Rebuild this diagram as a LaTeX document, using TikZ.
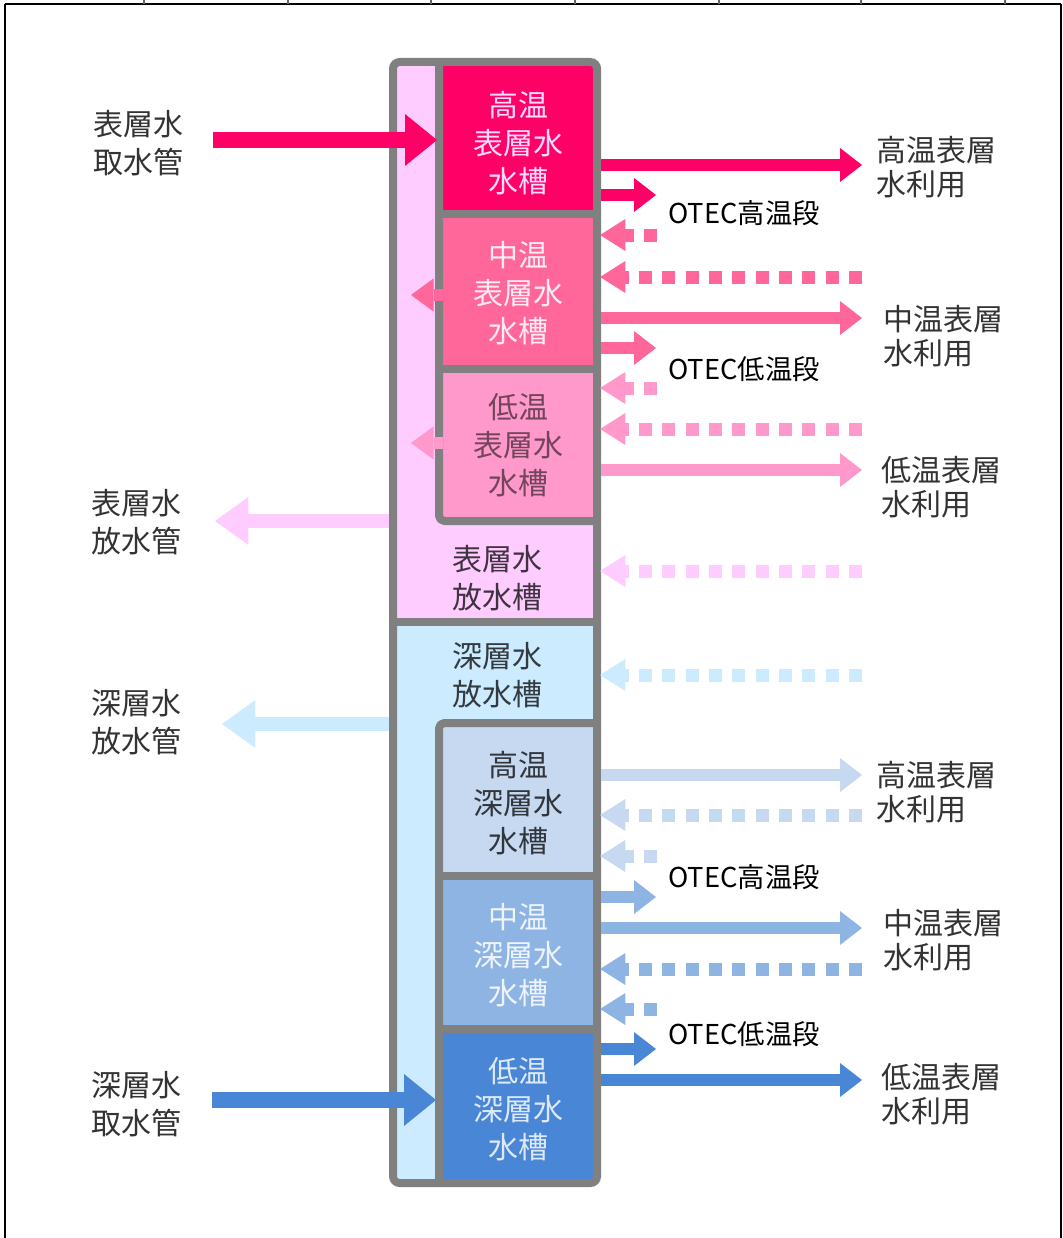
\documentclass[tikz,border=0pt]{standalone}
\usepackage{fontspec}
\setmainfont{Noto Sans CJK JP}
\usetikzlibrary{arrows.meta}
\definecolor{pkA}{HTML}{FF0066}
\definecolor{pkB}{HTML}{FF6699}
\definecolor{pkC}{HTML}{FF99CC}
\definecolor{pkD}{HTML}{FFCCFF}
\definecolor{blD}{HTML}{CCEBFF}
\definecolor{blA}{HTML}{C6D9F1}
\definecolor{blB}{HTML}{8EB4E3}
\definecolor{blC}{HTML}{4A86D6}
\definecolor{wallgray}{HTML}{808080}
\definecolor{txt}{HTML}{333333}
\tikzset{
  lbl/.style={text=txt, font=\fontsize{22.5}{28.5}\selectfont, inner sep=0pt, align=left, anchor=west},
  rlbl/.style={text=txt, font=\fontsize{22.5}{25.5}\selectfont, inner sep=0pt, align=left, anchor=west},
  tanktxt/.style={font=\fontsize{22.5}{28.5}\selectfont, inner sep=0pt, align=center},
  otec/.style={text=black, font=\fontsize{20.5}{24}\selectfont, inner sep=0pt, anchor=west},
  wall/.style={draw=wallgray, line width=6pt},
  bigarrow/.style={line width=12pt, -{Triangle[length=24pt,width=39pt,line width=0pt]}},
  outarrow/.style={line width=9pt, -{Triangle[length=16.5pt,width=25.5pt,line width=0pt]}},
  inarrow/.style={line width=9.75pt, dash pattern=on 9.75pt off 7.75pt, -{Triangle[length=19pt,width=24pt,line width=0pt]}},
  relarrow/.style={line width=11pt, -{Triangle[length=25pt,width=36pt,line width=0pt]}},
  smallarrow/.style={line width=9pt, -{Triangle[length=17pt,width=25pt,line width=0pt]}},
}
\begin{document}
\begin{tikzpicture}[x=0.75pt,y=-0.75pt]
\useasboundingbox (0,0) rectangle (1063,1238);
% page frame
\draw[black, line width=2pt] (5,4) -- (1061,4);
\draw[black, line width=1.2pt] (5,4) -- (5,1238);
\draw[black, line width=1.2pt] (1061,4) -- (1061,1238);
\foreach \tx in {144,288,431,575,719,861,1005}
  \draw[black!60, line width=0.8pt] (\tx,0) -- (\tx,4);

% region fills
\fill[pkD] (393,62) rectangle (597,622);
\fill[blD] (393,622) rectangle (597,1183);
\fill[pkA] (439,62) rectangle (597,214);
\fill[pkB] (439,214) rectangle (597,369);
\fill[pkC] (439,369) rectangle (597,521);
\fill[blA] (439,723) rectangle (597,876);
\fill[blB] (439,876) rectangle (597,1029);
\fill[blC] (439,1029) rectangle (597,1183);

% walls
\draw[wall, rounded corners=5pt] (393,62) rectangle (597,1183);
\draw[wall, rounded corners=4pt, line join=round] (439,62) -- (439,521) -- (597,521);
\draw[wall] (393,622) -- (597,622);
\draw[wall, rounded corners=4pt, line join=round] (597,723) -- (439,723) -- (439,1183);
\draw[wall] (439,214) -- (597,214);
\draw[wall] (439,369) -- (597,369);
\draw[wall] (439,876) -- (597,876);
\draw[wall] (439,1029) -- (597,1029);

% tank texts
\node[tanktxt, text=pkD!70!white] (t1) at (518,143) {高温\\表層水\\水槽};
\node[tanktxt, text=white!88!pkB] (t2) at (518,293) {中温\\表層水\\水槽};
\node[tanktxt, text=black!55!pkC] (t3) at (518,445) {低温\\表層水\\水槽};
\node[tanktxt, text=black!75!pkD] (s1) at (497,578) {表層水\\放水槽};
\node[tanktxt, text=black!75!blD] (s2) at (497,675) {深層水\\放水槽};
\node[tanktxt, text=black!75!blA] (d1) at (518,803) {高温\\深層水\\水槽};
\node[tanktxt, text=white!85!blB] (d2) at (518,955) {中温\\深層水\\水槽};
\node[tanktxt, text=white!82!blC] (d3) at (518,1109) {低温\\深層水\\水槽};

% left labels
\node[lbl] (l1) at (93,143) {表層水\\取水管};
\node[lbl] (l2) at (91,522) {表層水\\放水管};
\node[lbl] (l3) at (91,722) {深層水\\放水管};
\node[lbl] (l4) at (91,1104) {深層水\\取水管};

% right labels
\node[rlbl] (r1) at (876,167) {高温表層\\水利用};
\node[rlbl] (r2) at (883,336) {中温表層\\水利用};
\node[rlbl] (r3) at (881,487) {低温表層\\水利用};
\node[rlbl] (r4) at (876,792) {高温表層\\水利用};
\node[rlbl] (r5) at (883,940) {中温表層\\水利用};
\node[rlbl] (r6) at (881,1094) {低温表層\\水利用};

% OTEC labels
\node[otec] (o1) at (668,213) {OTEC高温段};
\node[otec] (o2) at (668,369) {OTEC低温段};
\node[otec] (o3) at (668,877) {OTEC高温段};
\node[otec] (o4) at (668,1034) {OTEC低温段};

% left arrows
\coordinate (li1) at (213,140);   \coordinate (li1e) at (437,140);
\coordinate (lr1) at (389,521);   \coordinate (lr1e) at (215,521);
\coordinate (lr2) at (389,724);   \coordinate (lr2e) at (222,724);
\coordinate (li2) at (212,1100);  \coordinate (li2e) at (436,1100);
\draw[bigarrow, pkA] (li1) -- (li1e);
\draw[relarrow, pkD] (lr1) -- (lr1e);
\draw[relarrow, blD] (lr2) -- (lr2e);
\draw[bigarrow, blC] (li2) -- (li2e);

% small arrows into the side channel
\coordinate (sa1) at (443,295); \coordinate (sa1e) at (411,295);
\coordinate (sa2) at (443,443); \coordinate (sa2e) at (411,443);
\draw[smallarrow, pkB] (sa1) -- (sa1e);
\draw[smallarrow, pkC] (sa2) -- (sa2e);

% right arrows: surface
\def\xw{601}\def\xs{656}\def\xl{862}
\coordinate (a1) at (\xw,165);  \coordinate (a1e) at (\xl,165);
\coordinate (a2) at (\xw,195);  \coordinate (a2e) at (\xs,195);
\coordinate (a3) at (657,235);  \coordinate (a3e) at (600,235);
\coordinate (a4) at (\xl,277);  \coordinate (a4e) at (600,277);
\coordinate (a5) at (\xw,318);  \coordinate (a5e) at (\xl,318);
\coordinate (a6) at (\xw,348);  \coordinate (a6e) at (\xs,348);
\coordinate (a7) at (657,388);  \coordinate (a7e) at (600,388);
\coordinate (a8) at (\xl,429);  \coordinate (a8e) at (600,429);
\coordinate (a9) at (\xw,470);  \coordinate (a9e) at (\xl,470);
\coordinate (a10) at (\xl,571); \coordinate (a10e) at (600,571);
\draw[outarrow, pkA] (a1) -- (a1e);
\draw[outarrow, pkA] (a2) -- (a2e);
\draw[inarrow, pkB] (a3) -- (a3e);
\draw[inarrow, pkB] (a4) -- (a4e);
\draw[outarrow, pkB] (a5) -- (a5e);
\draw[outarrow, pkB] (a6) -- (a6e);
\draw[inarrow, pkC] (a7) -- (a7e);
\draw[inarrow, pkC] (a8) -- (a8e);
\draw[outarrow, pkC] (a9) -- (a9e);
\draw[inarrow, pkD] (a10) -- (a10e);

% right arrows: deep
\coordinate (b1) at (\xl,675);   \coordinate (b1e) at (600,675);
\coordinate (b2) at (\xw,775);   \coordinate (b2e) at (\xl,775);
\coordinate (b3) at (\xl,815);   \coordinate (b3e) at (600,815);
\coordinate (b4) at (657,856);   \coordinate (b4e) at (600,856);
\coordinate (b5) at (\xw,897);   \coordinate (b5e) at (\xs,897);
\coordinate (b6) at (\xw,928);   \coordinate (b6e) at (\xl,928);
\coordinate (b7) at (\xl,969);   \coordinate (b7e) at (600,969);
\coordinate (b8) at (657,1009);  \coordinate (b8e) at (600,1009);
\coordinate (b9) at (\xw,1049);  \coordinate (b9e) at (\xs,1049);
\coordinate (b10) at (\xw,1080); \coordinate (b10e) at (\xl,1080);
\draw[inarrow, blD] (b1) -- (b1e);
\draw[outarrow, blA] (b2) -- (b2e);
\draw[inarrow, blA] (b3) -- (b3e);
\draw[inarrow, blA] (b4) -- (b4e);
\draw[outarrow, blB] (b5) -- (b5e);
\draw[outarrow, blB] (b6) -- (b6e);
\draw[inarrow, blB] (b7) -- (b7e);
\draw[inarrow, blB] (b8) -- (b8e);
\draw[outarrow, blC] (b9) -- (b9e);
\draw[outarrow, blC] (b10) -- (b10e);
\end{tikzpicture}
\end{document}
